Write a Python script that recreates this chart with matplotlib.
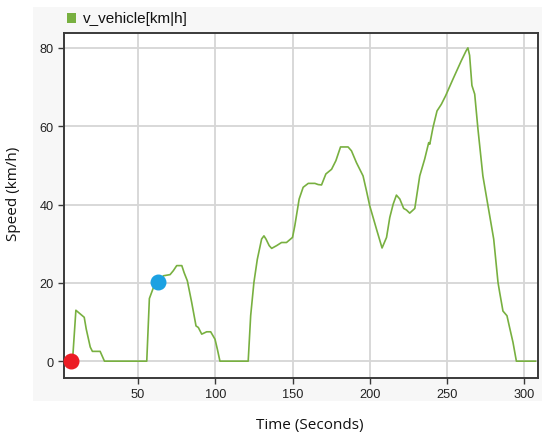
import matplotlib
matplotlib.use("Agg")
import matplotlib.pyplot as plt
from matplotlib.patches import Rectangle

time_s = [7.5, 9.7, 11.8, 15.1, 16.4, 19.0, 20.4, 25.4, 28.2, 55.6, 57.3, 60.3, 63.1, 66.4,
          70.7, 72.8, 75.0, 78.3, 79.8, 81.9, 84.7, 87.5, 89.0, 91.2, 94.4, 97.0, 99.8,
          101.3, 103.0, 121.3, 122.9, 125.0, 127.2, 130.0, 131.5, 132.8, 134.9, 136.5,
          139.7, 142.9, 146.1, 150.0, 151.5, 154.3, 156.9, 160.2, 164.5, 166.6, 168.8,
          171.6, 175.3, 178.1, 181.1, 186.0, 188.2, 191.4, 195.7, 197.9, 200.0, 204.4,
          208.0, 210.9, 213.0, 215.2, 217.3, 219.5, 222.0, 223.8, 225.9, 229.2, 232.4,
          235.6, 238.2, 238.9, 241.0, 243.6, 246.4, 249.2, 253.9, 259.3, 262.5, 263.6,
          264.7, 266.2, 268.0, 270.1, 273.3, 276.6, 280.3, 283.1, 284.2, 286.3, 288.9,
          290.6, 292.8, 295.0, 307.4]
speed_kmh = [0.0, 13.0, 12.3, 11.2, 8.2, 3.6, 2.5, 2.5, 0.0, 0.0, 16.0, 19.2, 20.0, 21.8,
             22.1, 23.1, 24.4, 24.4, 22.6, 20.5, 15.0, 9.0, 8.6, 6.9, 7.5, 7.5, 5.6,
             3.1, 0.0, 0.0, 11.6, 20.1, 26.0, 31.2, 32.0, 31.2, 29.5, 28.8,
             29.5, 30.3, 30.3, 31.6, 34.6, 41.4, 44.4, 45.4, 45.4, 45.1, 45.0,
             47.8, 49.0, 51.2, 54.7, 54.7, 53.7, 50.7, 47.3, 43.5, 39.7, 33.7,
             28.9, 31.6, 36.7, 40.1, 42.4, 41.4, 39.0, 38.6, 37.8, 39.0, 47.3,
             51.6, 55.8, 55.4, 59.7, 63.9, 65.6, 67.8, 72.0, 76.7, 79.3, 80.0,
             78.1, 70.4, 68.2, 59.3, 47.3, 39.7, 31.2, 20.1, 17.5, 12.8, 11.6,
             8.6, 4.8, 0.0, 0.0]
start_point = (6.7, 0.0)
marker_point = (63.1, 20.1)
x_ticks = [50, 100, 150, 200, 250, 300]
y_ticks = [0, 20, 40, 60, 80]
series_name = "v_vehicle[km|h]"

fig = plt.figure(figsize=(5.5, 4.39), dpi=100)
fig.patch.set_facecolor("white")

bg = fig.add_axes([33/550, 1-402/439, (542-33)/550, (402-8)/439], zorder=-10)
bg.set_facecolor("#f7f7f7")
bg.set_xticks([]); bg.set_yticks([])
for s in bg.spines.values():
    s.set_visible(False)
bg.set_xlim(0, 1); bg.set_ylim(0, 1)

ax = fig.add_axes([64/550, 1-379/439, (538-64)/550, (379-34)/439], zorder=1)
ax.set_facecolor("white")
ax.plot(time_s, speed_kmh, color="#78b040", lw=1.2, zorder=3, label=series_name)
ax.scatter([start_point[0]], [start_point[1]], s=110, color="#ec1c24", zorder=5, clip_on=False)
ax.scatter([marker_point[0]], [marker_point[1]], s=110, color="#1ba1e2", zorder=5)

ax.set_xlim(2, 309)
ax.set_ylim(-4.3, 83.8)
ax.set_xticks(x_ticks)
ax.set_yticks(y_ticks)
ax.grid(True, color="#d6d6d6", lw=1.3)
ax.set_axisbelow(True)
for s in ax.spines.values():
    s.set_color("#3a3a3a")
    s.set_linewidth(1.4)
ax.tick_params(axis="both", colors="#3a3a3a", length=4, width=1.0, labelsize=9.2,
               labelcolor="#222222", pad=3.5)
for lbl in ax.get_xticklabels() + ax.get_yticklabels():
    lbl.set_family(["Liberation Sans", "DejaVu Sans"])

fig.text(14/550, 1-194/439, "Speed (km/h)", rotation=90, ha="center", va="center",
         fontsize=11, family=["Open Sans", "DejaVu Sans"], color="#111111")
fig.text(310/550, 1-426/439, "Time (Seconds)", ha="center", va="center",
         fontsize=11, family=["Open Sans", "DejaVu Sans"], color="#111111")

# legend
bg.add_patch(Rectangle(((67-33)/509, (402-24)/394), 9/509, 10/394,
                       transform=bg.transAxes, facecolor="#78b040", edgecolor="none"))
bg.text((83-33)/509, (402-18.5)/394, series_name, transform=bg.transAxes,
        ha="left", va="center", fontsize=11,
        family=["Liberation Sans", "DejaVu Sans"], color="#111111")

fig.savefig("out.png", dpi=100)
